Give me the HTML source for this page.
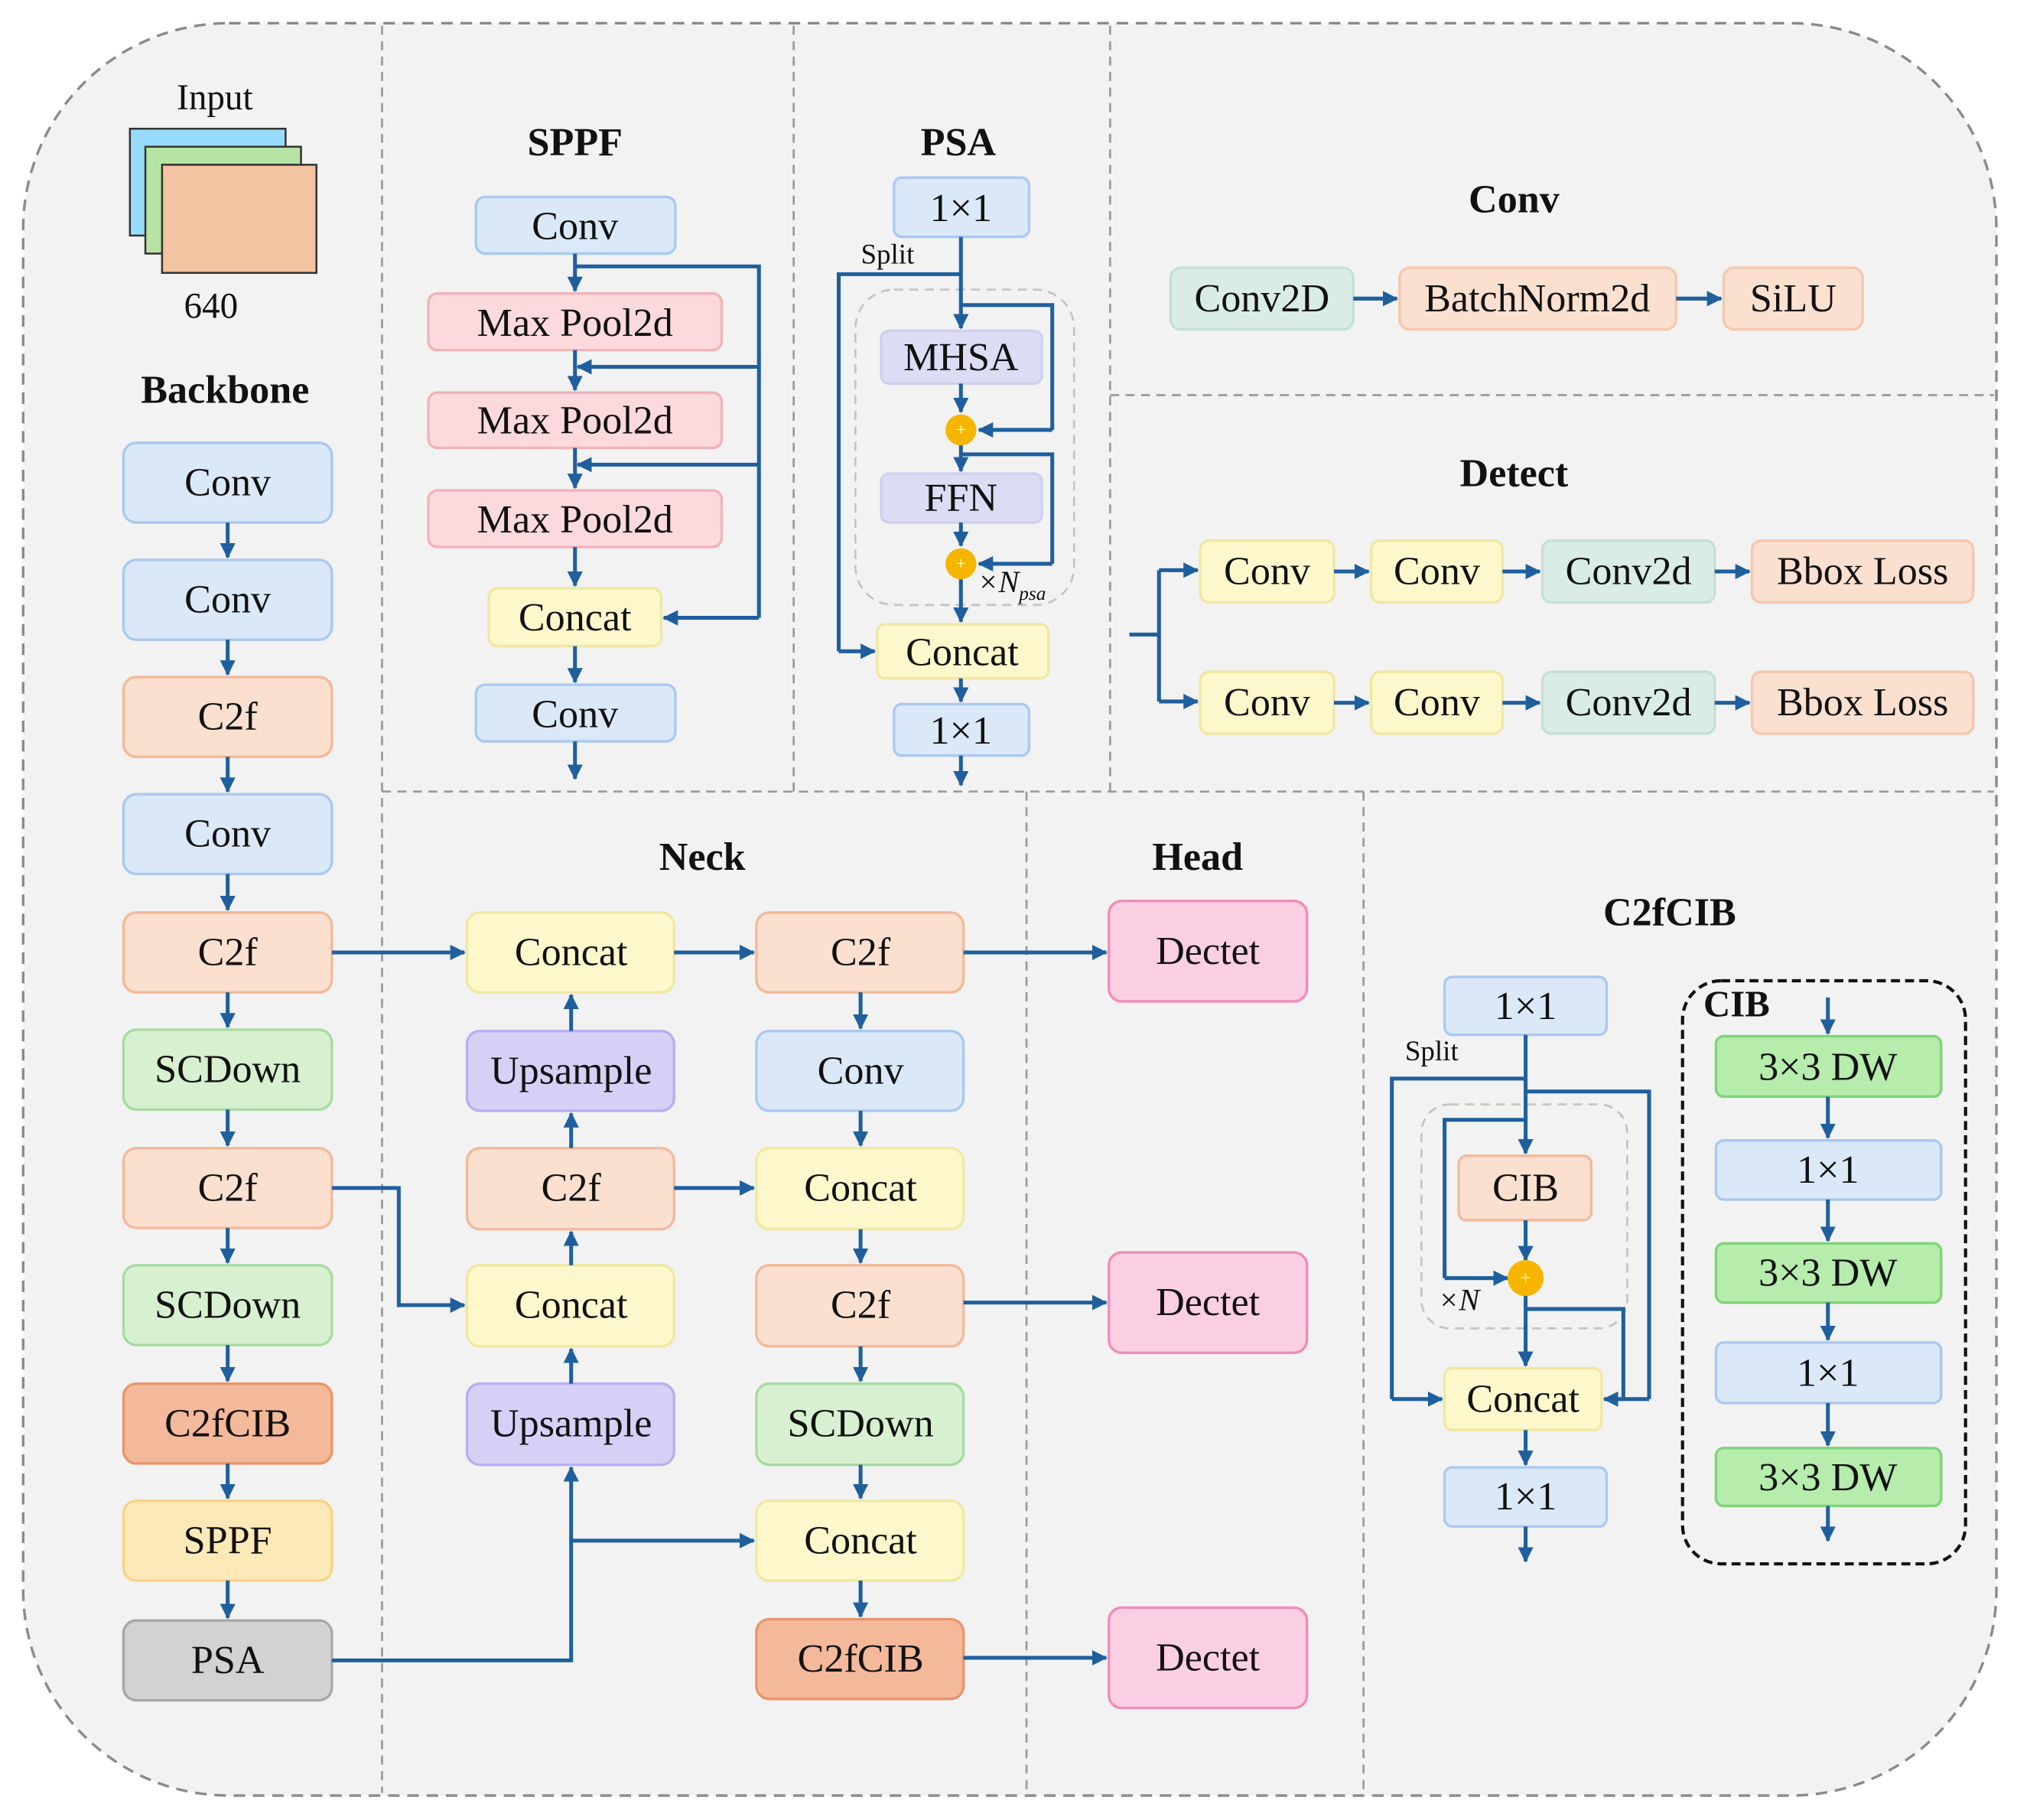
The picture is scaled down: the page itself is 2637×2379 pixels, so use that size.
<!DOCTYPE html>
<html><head><meta charset="utf-8"><style>
html,body{margin:0;padding:0;background:#fff;}
svg{display:block;}
text{font-family:"Liberation Serif",serif;fill:#111;}
.t{font-size:31px;text-anchor:middle;dominant-baseline:central;}
.h{font-size:31px;font-weight:bold;text-anchor:middle;dominant-baseline:central;}
.l{stroke:#1f5f9e;stroke-width:3;fill:none;}
.d{stroke:#9a9a9a;stroke-width:1.6;stroke-dasharray:7 5;fill:none;}
</style></head><body>
<svg width="2637" height="2379" viewBox="0 0 1568 1414" preserveAspectRatio="none" xmlns="http://www.w3.org/2000/svg">
<defs>
<marker id="a" markerUnits="userSpaceOnUse" markerWidth="14" markerHeight="14" refX="11" refY="6" orient="auto"><path d="M0,0 L12,6 L0,12 Z" fill="#1f5f9e"/></marker>
</defs>
<rect x="18" y="18" width="1534" height="1377" rx="160" fill="#f2f2f2" stroke="#8a8a8a" stroke-width="2" stroke-dasharray="9 6"/>
<path class="d" d="M297 20V1393 M617 20V615 M863 20V615 M863 307H1550 M297 615H1550 M798 615V1393 M1060 615V1393"/>
<text x="167" y="76" class="t" style="font-size:28px">Input</text>
<rect x="101" y="100" width="121" height="83" fill="#98dcfb" stroke="#333" stroke-width="1.5"/>
<rect x="113" y="114" width="121" height="83" fill="#b6e3a4" stroke="#333" stroke-width="1.5"/>
<rect x="126" y="128" width="120" height="84" fill="#f4c3a2" stroke="#333" stroke-width="1.5"/>
<text x="164" y="238" class="t" style="font-size:28px">640</text>
<text x="175" y="303" class="h">Backbone</text>
<g stroke-width="2">
<rect x="96" y="344" width="162" height="62" rx="10" fill="#dae8f8" stroke="#a9c9ef"/>
<rect x="96" y="435" width="162" height="62" rx="10" fill="#dae8f8" stroke="#a9c9ef"/>
<rect x="96" y="526" width="162" height="62" rx="10" fill="#fbe0d0" stroke="#f4b89a"/>
<rect x="96" y="617" width="162" height="62" rx="10" fill="#dae8f8" stroke="#a9c9ef"/>
<rect x="96" y="709" width="162" height="62" rx="10" fill="#fbe0d0" stroke="#f4b89a"/>
<rect x="96" y="800" width="162" height="62" rx="10" fill="#d7f0d0" stroke="#a8dba0"/>
<rect x="96" y="892" width="162" height="62" rx="10" fill="#fbe0d0" stroke="#f4b89a"/>
<rect x="96" y="983" width="162" height="62" rx="10" fill="#d7f0d0" stroke="#a8dba0"/>
<rect x="96" y="1075" width="162" height="62" rx="10" fill="#f4b89a" stroke="#e8956c"/>
<rect x="96" y="1166" width="162" height="62" rx="10" fill="#fde9b8" stroke="#f8d480"/>
<rect x="96" y="1259" width="162" height="62" rx="10" fill="#d2d2d2" stroke="#a8a8a8"/>
</g>
<text x="177" y="375" class="t">Conv</text><text x="177" y="466" class="t">Conv</text><text x="177" y="557" class="t">C2f</text>
<text x="177" y="648" class="t">Conv</text><text x="177" y="740" class="t">C2f</text><text x="177" y="831" class="t">SCDown</text>
<text x="177" y="923" class="t">C2f</text><text x="177" y="1014" class="t">SCDown</text><text x="177" y="1106" class="t">C2fCIB</text>
<text x="177" y="1197" class="t">SPPF</text><text x="177" y="1290" class="t">PSA</text>
<g class="l" marker-end="url(#a)">
<path d="M177 406V433"/><path d="M177 497V524"/><path d="M177 588V615"/><path d="M177 679V707"/><path d="M177 771V798"/>
<path d="M177 862V890"/><path d="M177 954V981"/><path d="M177 1045V1073"/><path d="M177 1137V1164"/><path d="M177 1228V1257"/>
</g>
<text x="447" y="111" class="h">SPPF</text>
<g stroke-width="2">
<rect x="370" y="153" width="155" height="44" rx="7" fill="#dae8f8" stroke="#a9c9ef"/>
<rect x="333" y="228" width="228" height="44" rx="7" fill="#fbd9dc" stroke="#f3b2b8"/>
<rect x="333" y="305" width="228" height="43" rx="7" fill="#fbd9dc" stroke="#f3b2b8"/>
<rect x="333" y="381" width="228" height="44" rx="7" fill="#fbd9dc" stroke="#f3b2b8"/>
<rect x="380" y="457" width="134" height="45" rx="7" fill="#fdf8cc" stroke="#f0e8a0"/>
<rect x="370" y="532" width="155" height="44" rx="7" fill="#dae8f8" stroke="#a9c9ef"/>
</g>
<text x="447" y="176" class="t">Conv</text><text x="447" y="251" class="t">Max Pool2d</text><text x="447" y="327" class="t">Max Pool2d</text>
<text x="447" y="404" class="t">Max Pool2d</text><text x="447" y="480" class="t">Concat</text><text x="447" y="555" class="t">Conv</text>
<path class="l" d="M447 207H590V480"/>
<g class="l" marker-end="url(#a)">
<path d="M447 197V226"/><path d="M447 272V303"/><path d="M447 348V379"/><path d="M447 425V455"/><path d="M447 502V530"/><path d="M447 576V605"/>
<path d="M590 285H449"/><path d="M590 361H449"/><path d="M590 480H516"/>
</g>
<text x="745" y="111" class="h">PSA</text>
<rect x="665" y="225" width="170" height="245" rx="30" class="d" style="stroke:#c4c4c4"/>
<g stroke-width="2">
<rect x="695" y="138" width="105" height="46" rx="6" fill="#dae8f8" stroke="#a9c9ef"/>
<rect x="685" y="257" width="125" height="41" rx="6" fill="#dcdcf5" stroke="#d0d0ee"/>
<rect x="685" y="368" width="125" height="38" rx="6" fill="#dcdcf5" stroke="#d0d0ee"/>
<rect x="682" y="485" width="133" height="42" rx="6" fill="#fdf8cc" stroke="#f0e8a0"/>
<rect x="695" y="547" width="105" height="40" rx="6" fill="#dae8f8" stroke="#a9c9ef"/>
</g>
<text x="747" y="162" class="t">1×1</text><text x="690" y="198" class="t" style="font-size:22px">Split</text>
<text x="747" y="278" class="t">MHSA</text><text x="747" y="387" class="t">FFN</text>
<text x="748" y="507" class="t">Concat</text><text x="747" y="568" class="t">1×1</text>
<path class="l" d="M747 213H652V506"/><path class="l" d="M747 237H818V334"/><path class="l" d="M747 353H818V438"/>
<g class="l" marker-end="url(#a)">
<path d="M747 184V255"/><path d="M747 298V320"/><path d="M747 346V366"/><path d="M747 406V424"/><path d="M747 450V483"/>
<path d="M652 506H680"/><path d="M818 334H761"/><path d="M818 438H761"/><path d="M747 527V545"/><path d="M747 587V610"/>
</g>
<circle cx="747" cy="334" r="12" fill="#f6b500"/><circle cx="747" cy="438" r="12" fill="#f6b500"/>
<text x="747" y="334" class="t" style="font-size:14px;fill:#fff">+</text><text x="747" y="438" class="t" style="font-size:14px;fill:#fff">+</text>
<text x="760" y="460" style="font-size:24px;font-style:italic">×N<tspan font-size="15" dy="6">psa</tspan></text>
<text x="1177" y="155" class="h">Conv</text>
<g stroke-width="2">
<rect x="910" y="208" width="142" height="48" rx="8" fill="#d9ece6" stroke="#c4e0d6"/>
<rect x="1088" y="208" width="215" height="48" rx="8" fill="#fbe0d0" stroke="#f4c8ac"/>
<rect x="1340" y="208" width="108" height="48" rx="8" fill="#fbe0d0" stroke="#f4c8ac"/>
</g>
<text x="981" y="232" class="t">Conv2D</text><text x="1195" y="232" class="t">BatchNorm2d</text><text x="1394" y="232" class="t">SiLU</text>
<g class="l" marker-end="url(#a)"><path d="M1052 232H1086"/><path d="M1303 232H1338"/></g>
<text x="1177" y="368" class="h">Detect</text>
<path class="l" d="M878 493H901 M901 443V545"/>
<g stroke-width="2">
<rect x="933" y="420" width="104" height="48" rx="7" fill="#fdf8cc" stroke="#f0e8a0"/>
<rect x="1066" y="420" width="102" height="48" rx="7" fill="#fdf8cc" stroke="#f0e8a0"/>
<rect x="1199" y="420" width="134" height="48" rx="7" fill="#d9ece6" stroke="#c4e0d6"/>
<rect x="1362" y="420" width="172" height="48" rx="7" fill="#fbe0d0" stroke="#f4c8ac"/>
<rect x="933" y="522" width="104" height="48" rx="7" fill="#fdf8cc" stroke="#f0e8a0"/>
<rect x="1066" y="522" width="102" height="48" rx="7" fill="#fdf8cc" stroke="#f0e8a0"/>
<rect x="1199" y="522" width="134" height="48" rx="7" fill="#d9ece6" stroke="#c4e0d6"/>
<rect x="1362" y="522" width="172" height="48" rx="7" fill="#fbe0d0" stroke="#f4c8ac"/>
</g>
<text x="985" y="444" class="t">Conv</text><text x="1117" y="444" class="t">Conv</text><text x="1266" y="444" class="t">Conv2d</text><text x="1448" y="444" class="t">Bbox Loss</text>
<text x="985" y="546" class="t">Conv</text><text x="1117" y="546" class="t">Conv</text><text x="1266" y="546" class="t">Conv2d</text><text x="1448" y="546" class="t">Bbox Loss</text>
<g class="l" marker-end="url(#a)">
<path d="M901 443H931"/><path d="M901 545H931"/>
<path d="M1037 444H1064"/><path d="M1168 444H1197"/><path d="M1333 444H1360"/>
<path d="M1037 546H1064"/><path d="M1168 546H1197"/><path d="M1333 546H1360"/>
</g>
<text x="546" y="666" class="h">Neck</text><text x="931" y="666" class="h">Head</text>
<g stroke-width="2">
<rect x="363" y="709" width="161" height="62" rx="10" fill="#fdf8cc" stroke="#f0e8a0"/>
<rect x="363" y="801" width="161" height="62" rx="10" fill="#d6d0f7" stroke="#b8aef0"/>
<rect x="363" y="892" width="161" height="63" rx="10" fill="#fbe0d0" stroke="#f4b89a"/>
<rect x="363" y="983" width="161" height="63" rx="10" fill="#fdf8cc" stroke="#f0e8a0"/>
<rect x="363" y="1075" width="161" height="63" rx="10" fill="#d6d0f7" stroke="#b8aef0"/>
<rect x="588" y="709" width="161" height="62" rx="10" fill="#fbe0d0" stroke="#f4b89a"/>
<rect x="588" y="801" width="161" height="62" rx="10" fill="#dae8f8" stroke="#a9c9ef"/>
<rect x="588" y="892" width="161" height="63" rx="10" fill="#fdf8cc" stroke="#f0e8a0"/>
<rect x="588" y="983" width="161" height="63" rx="10" fill="#fbe0d0" stroke="#f4b89a"/>
<rect x="588" y="1075" width="161" height="63" rx="10" fill="#d7f0d0" stroke="#a8dba0"/>
<rect x="588" y="1166" width="161" height="62" rx="10" fill="#fdf8cc" stroke="#f0e8a0"/>
<rect x="588" y="1258" width="161" height="62" rx="10" fill="#f4b89a" stroke="#e8956c"/>
<rect x="862" y="700" width="154" height="78" rx="10" fill="#fbcfe3" stroke="#f08cbc"/>
<rect x="862" y="973" width="154" height="78" rx="10" fill="#fbcfe3" stroke="#f08cbc"/>
<rect x="862" y="1249" width="154" height="78" rx="10" fill="#fbcfe3" stroke="#f08cbc"/>
</g>
<text x="444" y="740" class="t">Concat</text><text x="444" y="832" class="t">Upsample</text><text x="444" y="923" class="t">C2f</text>
<text x="444" y="1014" class="t">Concat</text><text x="444" y="1106" class="t">Upsample</text>
<text x="669" y="740" class="t">C2f</text><text x="669" y="832" class="t">Conv</text><text x="669" y="923" class="t">Concat</text>
<text x="669" y="1014" class="t">C2f</text><text x="669" y="1106" class="t">SCDown</text><text x="669" y="1197" class="t">Concat</text>
<text x="669" y="1289" class="t">C2fCIB</text>
<text x="939" y="739" class="t">Dectet</text><text x="939" y="1012" class="t">Dectet</text><text x="939" y="1288" class="t">Dectet</text>
<g class="l" marker-end="url(#a)">
<path d="M258 740H361"/><path d="M524 740H586"/><path d="M749 740H860"/>
<path d="M258 923H310V1014H361"/>
<path d="M444 801V773"/><path d="M444 892V865"/><path d="M444 983V957"/><path d="M444 1075V1048"/>
<path d="M524 923H586"/>
<path d="M258 1290H444V1140"/><path d="M444 1197H586"/>
<path d="M669 771V799"/><path d="M669 863V890"/><path d="M669 955V981"/><path d="M669 1046V1073"/><path d="M669 1138V1164"/><path d="M669 1228V1256"/>
<path d="M749 1012H860"/><path d="M749 1288H860"/>
</g>
<text x="1298" y="709" class="h">C2fCIB</text>
<rect x="1105" y="858" width="160" height="174" rx="22" class="d" style="stroke:#c4c4c4"/>
<g stroke-width="2">
<rect x="1123" y="759" width="126" height="45" rx="6" fill="#dae8f8" stroke="#a9c9ef"/>
<rect x="1134" y="898" width="103" height="50" rx="6" fill="#fbe0d0" stroke="#f4b89a"/>
<rect x="1123" y="1063" width="122" height="48" rx="6" fill="#fdf8cc" stroke="#f0e8a0"/>
<rect x="1123" y="1140" width="126" height="46" rx="6" fill="#dae8f8" stroke="#a9c9ef"/>
</g>
<text x="1186" y="782" class="t">1×1</text><text x="1113" y="817" class="t" style="font-size:22px">Split</text>
<text x="1186" y="923" class="t">CIB</text><text x="1184" y="1087" class="t">Concat</text><text x="1186" y="1163" class="t">1×1</text>
<text x="1118" y="1018" style="font-size:24px;font-style:italic">×N</text>
<path class="l" d="M1186 838H1082V1087"/><path class="l" d="M1186 848H1282V1087"/><path class="l" d="M1186 870H1123V993"/><path class="l" d="M1186 1017H1262V1087"/>
<g class="l" marker-end="url(#a)">
<path d="M1186 804V896"/><path d="M1186 948V979"/><path d="M1186 1005V1061"/>
<path d="M1082 1087H1121"/><path d="M1282 1087H1247"/><path d="M1123 993H1172"/>
<path d="M1186 1111V1138"/><path d="M1186 1186V1213"/>
</g>
<circle cx="1186" cy="993" r="14" fill="#f6b500"/><text x="1186" y="993" class="t" style="font-size:14px;fill:#fff">+</text>
<rect x="1308" y="762" width="220" height="453" rx="30" fill="none" stroke="#111" stroke-width="2.5" stroke-dasharray="7 4"/>
<text x="1350" y="780" class="h" style="font-size:29px">CIB</text>
<g stroke-width="2">
<rect x="1334" y="805" width="175" height="47" rx="6" fill="#b6ecac" stroke="#7fd477"/>
<rect x="1334" y="886" width="175" height="46" rx="6" fill="#dae8f8" stroke="#a9c9ef"/>
<rect x="1334" y="966" width="175" height="46" rx="6" fill="#b6ecac" stroke="#7fd477"/>
<rect x="1334" y="1043" width="175" height="47" rx="6" fill="#dae8f8" stroke="#a9c9ef"/>
<rect x="1334" y="1125" width="175" height="45" rx="6" fill="#b6ecac" stroke="#7fd477"/>
</g>
<text x="1421" y="829" class="t">3×3 DW</text><text x="1421" y="909" class="t">1×1</text><text x="1421" y="989" class="t">3×3 DW</text>
<text x="1421" y="1067" class="t">1×1</text><text x="1421" y="1148" class="t">3×3 DW</text>
<g class="l" marker-end="url(#a)">
<path d="M1421 775V803"/><path d="M1421 852V884"/><path d="M1421 932V964"/><path d="M1421 1012V1041"/><path d="M1421 1090V1123"/><path d="M1421 1170V1197"/>
</g>
</svg>
</body></html>
